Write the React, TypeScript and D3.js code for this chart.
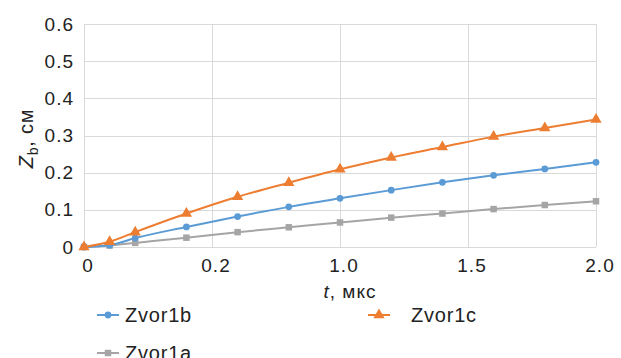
import React, { useEffect, useRef } from 'react';
import * as d3 from 'd3';

const times = [0, 0.1, 0.2, 0.4, 0.6, 0.8, 1.0, 1.2, 1.4, 1.6, 1.8, 2.0];
const zvor1b = [0, 0.005, 0.024, 0.054, 0.082, 0.108, 0.131, 0.153, 0.174, 0.193, 0.21, 0.228];
const zvor1c = [0, 0.014, 0.04, 0.09, 0.135, 0.173, 0.209, 0.241, 0.269, 0.297, 0.32, 0.343];
const zvor1a = [0, 0.004, 0.011, 0.025, 0.04, 0.053, 0.066, 0.079, 0.09, 0.102, 0.113, 0.123];

const xTickValues = [0, 0.5, 1.0, 1.5, 2.0];
const xTickLabels = ['0', '0.2', '1.0', '1.5', '2.0'];
const yTickValues = [0, 0.1, 0.2, 0.3, 0.4, 0.5, 0.6];
const yTickLabels = ['0', '0.1', '0.2', '0.3', '0.4', '0.5', '0.6'];

const App = () => {
  const svgRef = useRef<SVGSVGElement>(null);

  useEffect(() => {
    const svg = d3.select(svgRef.current);
    svg.selectAll('*').remove();

    const width = 621;
    const height = 358;
    const margin = { top: 24, right: 25, bottom: 111, left: 84 };
    const font = 'Liberation Sans, Arial, sans-serif';

    const x = d3.scaleLinear().domain([0, 2]).range([margin.left, width - margin.right]);
    const y = d3.scaleLinear().domain([0, 0.6]).range([height - margin.bottom, margin.top]);

    // grid
    const grid = svg.append('g').attr('stroke', '#d9d9d9').attr('stroke-width', 1);
    yTickValues.forEach(v => {
      grid.append('line')
        .attr('x1', x(0)).attr('x2', x(2))
        .attr('y1', Math.round(y(v)) + 0.5).attr('y2', Math.round(y(v)) + 0.5);
    });
    xTickValues.forEach(v => {
      grid.append('line')
        .attr('x1', Math.round(x(v)) + 0.5).attr('x2', Math.round(x(v)) + 0.5)
        .attr('y1', y(0)).attr('y2', y(0.6));
    });

    // tick labels
    svg.append('g').selectAll('text')
      .data(yTickValues)
      .enter().append('text')
      .attr('x', margin.left - 10)
      .attr('y', d => y(d))
      .attr('dy', '0.35em')
      .attr('text-anchor', 'end')
      .attr('font-family', font)
      .attr('font-size', 19)
      .attr('letter-spacing', 1)
      .attr('fill', '#222')
      .text((d, i) => yTickLabels[i]);

    svg.append('g').selectAll('text')
      .data(xTickValues)
      .enter().append('text')
      .attr('x', d => x(d) + 4)
      .attr('y', y(0) + 25)
      .attr('text-anchor', 'middle')
      .attr('font-family', font)
      .attr('font-size', 19)
      .attr('letter-spacing', 1)
      .attr('fill', '#222')
      .text((d, i) => xTickLabels[i]);

    // axis titles
    const xt = svg.append('text')
      .attr('x', 350)
      .attr('y', 298)
      .attr('text-anchor', 'middle')
      .attr('font-family', font)
      .attr('font-size', 19)
      .attr('letter-spacing', 1)
      .attr('fill', '#222');
    xt.append('tspan').attr('font-style', 'italic').text('t');
    xt.append('tspan').text(', мкс');

    const yt = svg.append('text')
      .attr('transform', `translate(33,${(y(0) + y(0.6)) / 2 + 3}) rotate(-90)`)
      .attr('text-anchor', 'middle')
      .attr('font-family', font)
      .attr('font-size', 20)
      .attr('letter-spacing', 0.8)
      .attr('fill', '#222');
    yt.append('tspan').attr('font-style', 'italic').text('Z');
    yt.append('tspan').attr('font-size', 14).attr('dy', 5).text('b');
    yt.append('tspan').attr('dy', -5).text(', см');

    const series = [
      { name: 'Zvor1b', values: zvor1b, color: '#5b9bd5', marker: d3.symbolCircle, size: 36 },
      { name: 'Zvor1c', values: zvor1c, color: '#ed7d31', marker: d3.symbolTriangle, size: 55 },
      { name: 'Zvor1a', values: zvor1a, color: '#a5a5a5', marker: d3.symbolSquare, size: 42 },
    ];

    const line = d3.line<number>()
      .x((d, i) => x(times[i]))
      .y(d => y(d))
      .curve(d3.curveMonotoneX);

    // gray first, then blue, orange on top
    [series[2], series[0], series[1]].forEach(s => {
      svg.append('path')
        .datum(s.values)
        .attr('d', line)
        .attr('fill', 'none')
        .attr('stroke', s.color)
        .attr('stroke-width', 2);
      svg.append('g').selectAll('path')
        .data(s.values)
        .enter().append('path')
        .attr('transform', (d, i) => `translate(${x(times[i])},${y(d)})`)
        .attr('d', d3.symbol().type(s.marker).size(s.size)())
        .attr('fill', s.color);
    });

    // legend
    const legendPos = [
      { lx: 97, ly: 315 },
      { lx: 368, ly: 315 },
      { lx: 97, ly: 353 },
    ];
    series.forEach((s, i) => {
      const p = legendPos[i];
      const g = svg.append('g').attr('transform', `translate(${p.lx},${p.ly})`);
      g.append('line').attr('x1', 0).attr('x2', 22).attr('y1', 0).attr('y2', 0)
        .attr('stroke', s.color).attr('stroke-width', 2);
      g.append('path').attr('transform', 'translate(11,0)')
        .attr('d', d3.symbol().type(s.marker).size(s.size)())
        .attr('fill', s.color);
      g.append('text')
        .attr('x', i === 1 ? 43 : 28)
        .attr('y', 0)
        .attr('dy', '0.35em')
        .attr('font-family', font)
        .attr('font-size', 20)
        .attr('letter-spacing', 0.8)
        .attr('fill', '#222')
        .text(s.name);
    });
  }, []);

  return (
    <svg ref={svgRef} width="621" height="358"
      style={{ position: 'absolute', left: 0, top: 0, background: '#fff' }}></svg>
  );
};

export default App;
